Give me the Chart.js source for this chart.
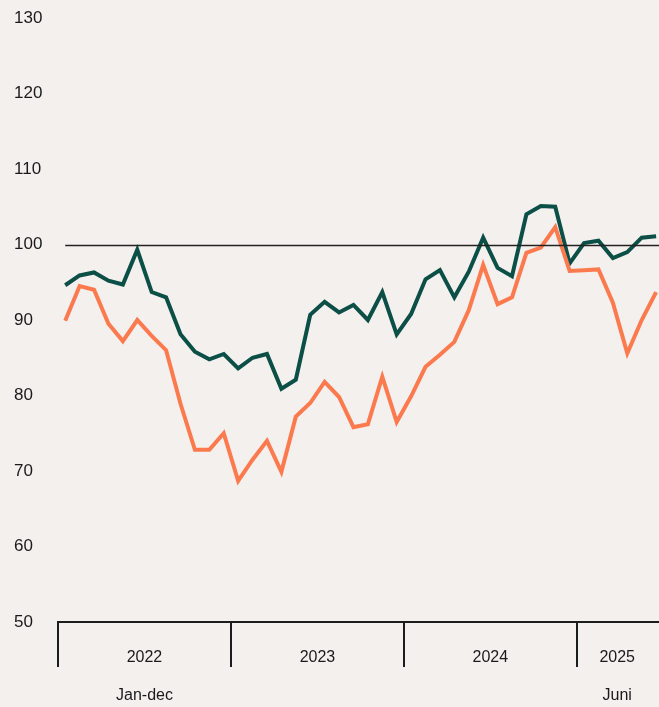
<!DOCTYPE html>
<html>
<head>
<meta charset="utf-8">
<script src="https://cdn.jsdelivr.net/npm/chart.js@4"></script>
<style>
  html,body{margin:0;padding:0;background:#f4f0ed;}
  #wrap{width:659px;height:707px;position:relative;}
</style>
</head>
<body>
<div id="wrap"><canvas id="chart"></canvas></div>
<script>
// monthly index, Jan 2022 - Jun 2025
const months = Array.from({length:42},(_,i)=>i);
const seriesDark = [94.6,95.9,96.3,95.2,94.7,99.3,93.7,93.0,88.1,85.8,84.8,85.5,
  83.6,85.0,85.5,80.9,82.1,90.7,92.4,91.0,92.0,90.0,93.7,88.1,
  90.8,95.4,96.6,93.0,96.4,100.9,96.9,95.8,104.0,105.1,105.0,97.5,
  100.2,100.5,98.2,99.0,100.9,101.1];
const seriesOrange = [89.9,94.5,94.0,89.5,87.2,90.0,87.9,86.0,78.9,72.8,72.8,75.0,
  68.7,71.5,74.0,69.9,77.2,79.0,81.8,79.8,75.8,76.2,82.5,76.5,
  79.9,83.8,85.4,87.1,91.3,97.3,92.1,93.0,98.9,99.6,102.3,96.5,
  96.6,96.7,92.3,85.6,90.0,93.7];
const yearLabels = [['2022','','Jan-dec'],'2023','2024',['2025','','Juni']];
const yearCenters = [5.5,17.5,29.5,38.3];
const yearBounds = [-0.5,11.5,23.5,35.5];
const baseline = 100;

const toPts = arr => arr.map((v,i)=>({x:months[i],y:v}));

const overlay = {
  id:'overlay',
  afterDatasetsDraw(chart){
    const {ctx, chartArea, scales:{x,y}} = chart;
    ctx.save();
    // baseline at 100
    ctx.strokeStyle = '#222';
    ctx.lineWidth = 1.3;
    const by = Math.round(y.getPixelForValue(baseline))+0.5;
    ctx.beginPath();
    ctx.moveTo(x.getPixelForValue(0), by);
    ctx.lineTo(chartArea.right, by);
    ctx.stroke();
    ctx.restore();
  },
  afterDraw(chart){
    const {ctx, chartArea, scales:{x}} = chart;
    ctx.save();
    ctx.strokeStyle = '#1c1c1c';
    ctx.lineWidth = 2;
    yearBounds.forEach(b=>{
      const px = Math.round(x.getPixelForValue(b));
      ctx.beginPath();
      ctx.moveTo(px, chartArea.bottom);
      ctx.lineTo(px, chartArea.bottom+45);
      ctx.stroke();
    });
    ctx.restore();
  }
};

new Chart(document.getElementById('chart'), {
  type:'line',
  data:{
    datasets:[
      {data:toPts(seriesOrange), borderColor:'#fd7a4f', borderWidth:4, pointRadius:0, tension:0},
      {data:toPts(seriesDark), borderColor:'#0c4f47', borderWidth:4, pointRadius:0, tension:0}
    ]
  },
  options:{
    responsive:true,
    maintainAspectRatio:false,
    animation:false,
    layout:{padding:{left:14,top:18,right:0,bottom:0}},
    plugins:{legend:{display:false},tooltip:{enabled:false}},
    scales:{
      x:{
        type:'linear', min:-0.5, max:41.2,
        afterBuildTicks(s){ s.ticks = yearCenters.map(v=>({value:v})); },
        afterFit(s){ s.height = 85; s.paddingLeft = 0; s.paddingRight = 0; },
        grid:{display:false, drawTicks:false},
        border:{display:true, color:'#1c1c1c', width:2},
        ticks:{
          autoSkip:false, maxRotation:0, padding:26,
          color:'#1a1a1a', font:{family:'Liberation Sans, Arial, sans-serif', size:16},
          callback:(v,i)=>yearLabels[i]
        }
      },
      y:{
        min:50, max:130,
        afterFit(s){ s.width = 44; },
        grid:{display:false},
        border:{display:false},
        ticks:{
          stepSize:10, crossAlign:'far', padding:0,
          color:'#1a1a1a', font:{family:'Liberation Sans, Arial, sans-serif', size:17}
        }
      }
    }
  },
  plugins:[overlay]
});
</script>
</body>
</html>
